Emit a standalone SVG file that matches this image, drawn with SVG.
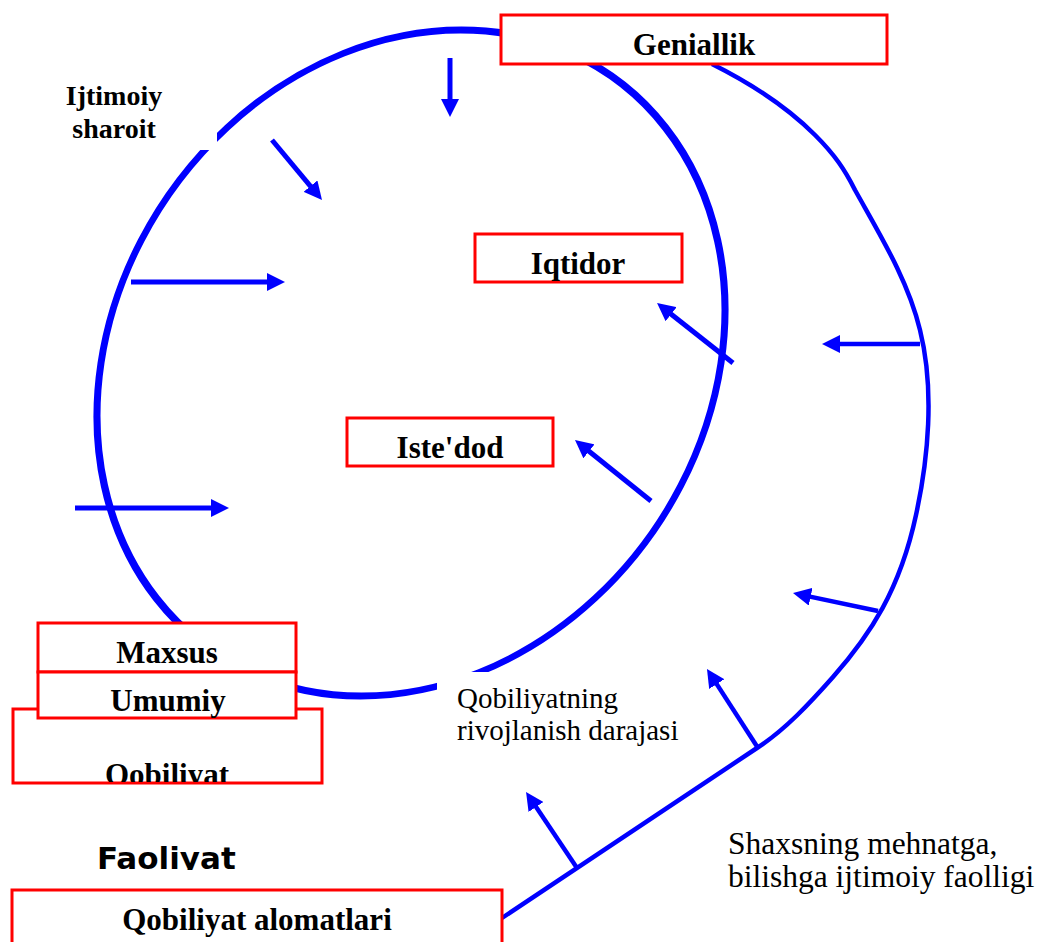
<svg xmlns="http://www.w3.org/2000/svg" width="1041" height="942" viewBox="0 0 1041 942">
<style>
.box{fill:#fff;stroke:#ff0000;stroke-width:3}
.bl{font-family:"Liberation Serif","Times New Roman",serif;font-weight:bold;font-size:31px;fill:#000;text-anchor:middle}
.nl{font-family:"Liberation Serif","Times New Roman",serif;font-size:29px;fill:#000}
.ring{fill:none;stroke:#0000ff;stroke-width:7}
.a1{fill:none;stroke:#0000ff;stroke-width:5;marker-end:url(#ah)}
.a2{fill:none;stroke:#0000ff;stroke-width:4.5;marker-end:url(#ah)}
.curve{fill:none;stroke:#0000ff;stroke-width:4.5}
</style>
<defs>
<marker id="ah" markerUnits="userSpaceOnUse" markerWidth="18" markerHeight="18" refX="8" refY="9" orient="auto" viewBox="0 0 18 18">
<path d="M0,0 L18,9 L0,18 z" fill="#0000ff"/>
</marker>
<clipPath id="clipQ"><rect x="13" y="709" width="309" height="73"/></clipPath>
<clipPath id="clipF"><rect x="0" y="820" width="400" height="50"/></clipPath>
</defs>
<rect width="1041" height="942" fill="#fff"/>
<g id="ring">
<ellipse class="ring" cx="0" cy="0" rx="310" ry="333" transform="matrix(1,0,-0.15,1,411,363)"/>
</g>
<g id="ijtimoiy-sharoit">
<rect x="30" y="70" width="187" height="80" fill="#fff"/>
<text class="bl" x="114" y="105" style="font-size:28px">Ijtimoiy</text>
<text class="bl" x="114" y="138" style="font-size:28px">sharoit</text>
</g>
<g id="rivojlanish-darajasi">
<rect x="437" y="672" width="250" height="78" fill="#fff"/>
<text class="nl" x="457" y="708">Qobiliyatning</text>
<text class="nl" x="457" y="740">rivojlanish darajasi</text>
</g>
<g id="connectors">
<path class="curve" d="M712,64 C760,88 790,110 815,135 C835,155 845,170 855,190 C880,235 908,280 920,330 C935,390 928,460 916,515 C900,590 870,635 833,677 C810,703 785,730 757,748 L502,918"/>
<line class="a1" x1="450" y1="58" x2="450" y2="107"/>
<line class="a1" x1="272" y1="140" x2="315.6" y2="192.3"/>
<line class="a1" x1="131" y1="282" x2="275" y2="282"/>
<line class="a1" x1="75" y1="508" x2="219" y2="508"/>
<line class="a1" x1="733" y1="363" x2="664.9" y2="309.2"/>
<line class="a1" x1="651" y1="501" x2="582.8" y2="446.3"/>
<line class="a2" x1="920" y1="344" x2="832" y2="344"/>
<line class="a2" x1="878" y1="611" x2="802.8" y2="595.1"/>
<line class="a2" x1="758" y1="748" x2="712.4" y2="677.4"/>
<line class="a2" x1="577" y1="868" x2="531.6" y2="800.3"/>
</g>
<g id="geniallik">
<rect class="box" x="501" y="15" width="386" height="49"/>
<text class="bl" x="694" y="55">Geniallik</text>
</g>
<g id="iqtidor">
<rect class="box" x="475" y="234" width="207" height="48"/>
<text class="bl" x="578" y="274">Iqtidor</text>
</g>
<g id="istedod">
<rect class="box" x="347" y="418" width="206" height="48"/>
<text class="bl" x="450" y="458">Iste'dod</text>
</g>
<g id="qobiliyat">
<rect class="box" x="13" y="709" width="309" height="74"/>
<text class="bl" x="167" y="785" clip-path="url(#clipQ)">Qobiliyat</text>
</g>
<g id="maxsus">
<rect class="box" x="38" y="623" width="258" height="49"/>
<text class="bl" x="167" y="663">Maxsus</text>
</g>
<g id="umumiy">
<rect class="box" x="38" y="672" width="258" height="46"/>
<text class="bl" x="168" y="711">Umumiy</text>
</g>
<g id="faoliyat">
<text x="97" y="869" clip-path="url(#clipF)" style="font-family:'DejaVu Sans',sans-serif;font-weight:bold;font-size:31px;fill:#000">Faoliyat</text>
</g>
<g id="qobiliyat-alomatlari">
<rect class="box" x="12" y="890" width="490" height="70"/>
<text class="bl" x="257" y="930">Qobiliyat alomatlari</text>
</g>
<g id="faollik">
<text class="nl" x="728" y="854" style="font-size:31.5px">Shaxsning mehnatga,</text>
<text class="nl" x="728" y="887" style="font-size:31.5px">bilishga ijtimoiy faolligi</text>
</g>
</svg>
